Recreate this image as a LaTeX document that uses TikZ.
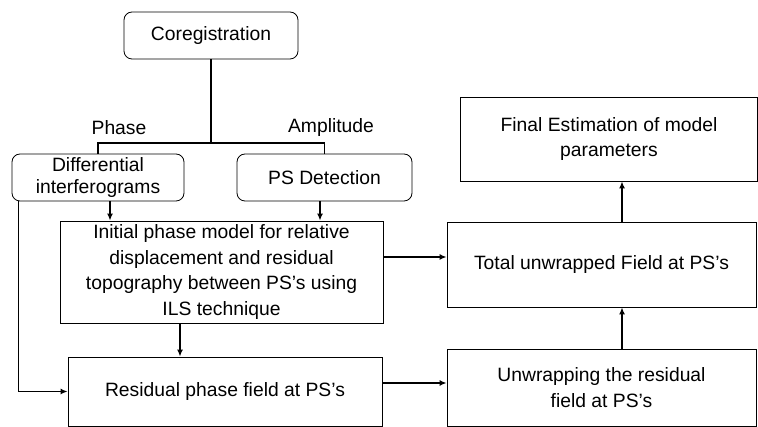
\documentclass[tikz,border=0pt]{standalone}
\usepackage{fontspec}
\setmainfont{Liberation Sans}
\usepackage{tikz}
\usetikzlibrary{shapes,arrows.meta,positioning}

\begin{document}
\begin{tikzpicture}[
        x=1pt, y=-1pt,
        font=\fontsize{19.3}{25.5}\selectfont,
        roundbox/.style={
            draw,
            line width=0.8pt,
            rounded corners=8pt,
            align=center,
            inner sep=2pt
            },
        plainbox/.style={
            draw,
            line width=0.8pt,
            align=center,
            inner sep=2pt
            },
        link/.style={
            line width=1.6pt
            },
        flow/.style={
            line width=1.6pt,
            -{Latex[length=7pt,width=6pt]}
            }
    ]
                \useasboundingbox (0,0) rectangle (758,427);

                % top of the tree
                \node[roundbox, minimum width=174pt, minimum height=47pt]
                    (coreg) at (211,35.5) {Coregistration};
                \node[roundbox, minimum width=172pt, minimum height=47pt,
                      font=\fontsize{19.3}{21.5}\selectfont]
                    (diffint) at (98,177.5) {Differential\\interferograms};
                \node[roundbox, minimum width=175pt, minimum height=47pt]
                    (psdet) at (324.5,177.5) {PS Detection};

                \coordinate (split) at (211,143);
                \draw[link] (coreg.south) -- (split);
                \draw[link] (diffint.north) |- (split) -| (psdet.north);

                \node[inner sep=0pt] (phaselbl) at (119,128) {Phase};
                \node[inner sep=0pt] (amplbl) at (331,128) {Amplitude};

                % processing chain
                \node[plainbox, minimum width=323pt, minimum height=102pt]
                    (initmodel) at (221.5,272)
                    {Initial phase model for relative\\displacement and residual\\topography between PS's using\\ILS technique};
                \node[plainbox, minimum width=314pt, minimum height=69pt]
                    (resphase) at (225,391.5) {Residual phase field at PS's};
                \node[plainbox, minimum width=309pt, minimum height=85pt]
                    (totfield) at (601.5,264.5) {Total unwrapped Field at PS's};
                \node[plainbox, minimum width=297pt, minimum height=84pt]
                    (finalest) at (609,139) {Final Estimation of model\\parameters};
                \node[plainbox, minimum width=309pt, minimum height=77pt]
                    (unwrapres) at (601.5,387.5) {Unwrapping the residual\\field at PS's};

                \draw[flow] ([xshift=12pt]diffint.south) -- ([xshift=12pt]diffint.south |- initmodel.north);
                \draw[flow] ([xshift=-4.5pt]psdet.south) -- ([xshift=-4.5pt]psdet.south |- initmodel.north);
                \draw[flow] ([xshift=7pt]diffint.south west) |- (resphase.west);
                \draw[flow] ([xshift=-41.5pt]initmodel.south) -- ([xshift=-41.5pt]initmodel.south |- resphase.north);
                \draw[flow] ([yshift=15pt]initmodel.east) -- ([yshift=15pt]initmodel.east -| totfield.west);
                \draw[flow] ([yshift=8.5pt]resphase.east) -- ([yshift=8.5pt]resphase.east -| unwrapres.west);
                \draw[flow] ([xshift=20.5pt]unwrapres.north) -- ([xshift=20.5pt]unwrapres.north |- totfield.south);
                \draw[flow] ([xshift=20.5pt]totfield.north) -- ([xshift=20.5pt]totfield.north |- finalest.south);

\end{tikzpicture}
\end{document}
